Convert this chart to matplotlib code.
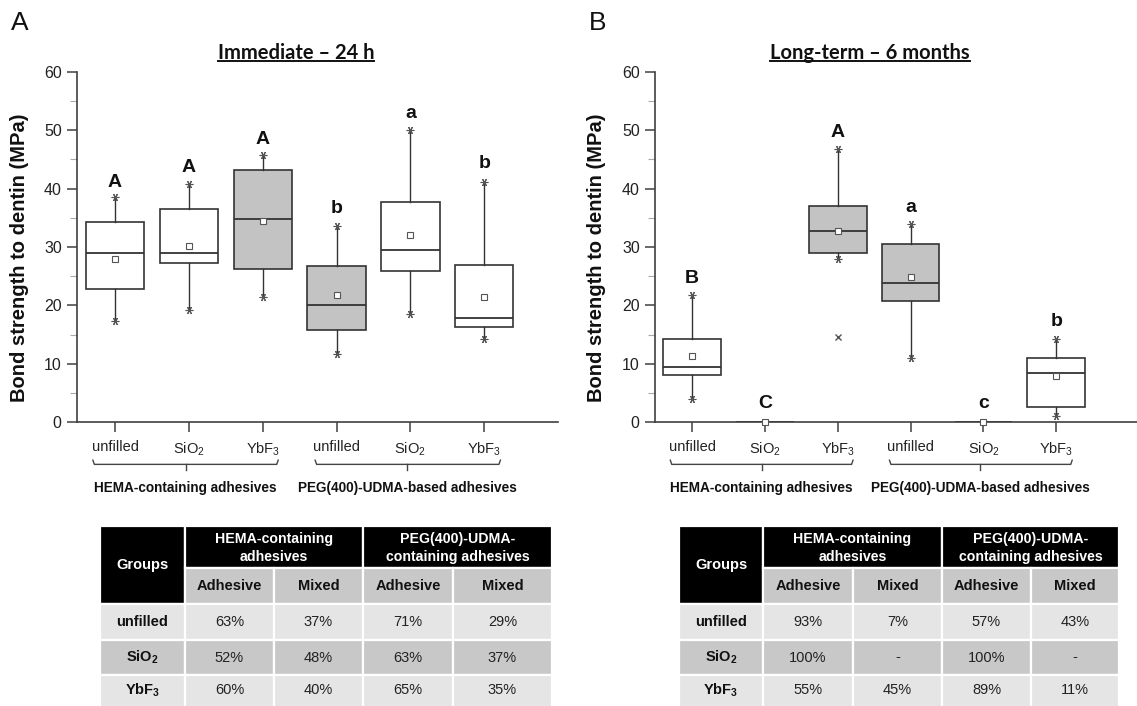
import matplotlib
matplotlib.use('Agg')
import matplotlib.pyplot as plt
import matplotlib.transforms as mtrans
from matplotlib.patches import Rectangle
from matplotlib.lines import Line2D
import numpy as np

plt.rcParams['font.family'] = ['Liberation Sans', 'DejaVu Sans']
plt.rcParams['mathtext.fontset'] = 'custom'
plt.rcParams['mathtext.rm'] = 'Liberation Sans'
plt.rcParams['mathtext.it'] = 'Liberation Sans:italic'
plt.rcParams['mathtext.bf'] = 'Liberation Sans:bold'

# ---------------- data ----------------
groups = ['unfilled', 'SiO$_2$', 'YbF$_3$', 'unfilled', 'SiO$_2$', 'YbF$_3$']
families = ['HEMA-containing adhesives', 'PEG(400)-UDMA-based adhesives']

# Panel A: Immediate - 24 h
a_q1 = [22.8, 27.3, 26.2, 15.8, 25.9, 16.3]
a_med = [28.9, 28.9, 34.8, 20.0, 29.5, 17.8]
a_q3 = [34.3, 36.5, 43.2, 26.8, 37.7, 27.0]
a_lo = [17.4, 19.2, 21.4, 11.7, 18.6, 14.2]
a_hi = [38.5, 40.7, 45.8, 33.6, 50.0, 41.2]
a_mean = [28.0, 30.2, 34.4, 21.8, 32.1, 21.4]
a_fliers = [[], [], [], [], [], []]
a_grey = [False, False, True, True, False, False]
a_letters = ['A', 'A', 'A', 'b', 'a', 'b']
a_letter_y = [40.3, 42.8, 47.7, 35.8, 52.0, 43.5]

# Panel B: Long-term - 6 months
b_q1 = [8.1, 0.0, 28.9, 20.8, 0.0, 2.6]
b_med = [9.5, 0.0, 32.8, 23.9, 0.0, 8.4]
b_q3 = [14.2, 0.0, 37.0, 30.5, 0.0, 11.0]
b_lo = [4.0, 0.0, 28.0, 11.0, 0.0, 1.1]
b_hi = [21.7, 0.0, 46.8, 34.0, 0.0, 14.3]
b_mean = [11.4, 0.0, 32.8, 24.8, 0.0, 8.0]
b_fliers = [[], [], [14.6], [], [], []]
b_grey = [False, False, True, True, False, False]
b_letters = ['B', 'C', 'A', 'a', 'c', 'b']
b_letter_y = [23.8, 2.4, 48.9, 36.0, 2.4, 16.5]

# Failure-mode tables
tab_rows = ['unfilled', r'SiO$_\mathbf{2}$', r'YbF$_\mathbf{3}$']
tab_cols = ['Adhesive', 'Mixed', 'Adhesive', 'Mixed']
tab_groups = ['HEMA-containing\nadhesives', 'PEG(400)-UDMA-\ncontaining adhesives']
tab_a = [['63%', '37%', '71%', '29%'],
         ['52%', '48%', '63%', '37%'],
         ['60%', '40%', '65%', '35%']]
tab_b = [['93%', '7%', '57%', '43%'],
         ['100%', '-', '100%', '-'],
         ['55%', '45%', '89%', '11%']]

# ---------------- style ----------------
W, H = 1137, 706
EDGE = '#333333'
GREY = '#c3c3c3'
SPINE = '#404040'

fig = plt.figure(figsize=(W / 100, H / 100), dpi=100)


def fx(px):
    return px / W


def fy(py):
    return 1 - py / H


y0, y60 = 422.3, 71.7
axA = fig.add_axes([fx(77), fy(y0), (558 - 77) / W, (y0 - y60) / H])
axB = fig.add_axes([fx(655), fy(y0), (1137 - 655) / W, (y0 - y60) / H])


def draw_panel(ax, q1, med, q3, lo, hi, mean, fliers, grey, letters, letter_y, xlim):
    pos = np.arange(1, 7)
    stats = [dict(q1=q1[i], med=med[i], q3=q3[i], whislo=lo[i], whishi=hi[i],
                  mean=mean[i], fliers=fliers[i]) for i in range(6)]
    bp = ax.bxp(stats, positions=pos, widths=0.79, patch_artist=True,
                showmeans=True, showcaps=False,
                boxprops=dict(edgecolor=EDGE, linewidth=1.2),
                medianprops=dict(color=EDGE, linewidth=1.3),
                whiskerprops=dict(color=EDGE, linewidth=1.0),
                meanprops=dict(marker='s', markersize=4, markerfacecolor='white',
                               markeredgecolor='#555555', markeredgewidth=0.8),
                flierprops=dict(marker='x', markersize=4, markeredgecolor='#555555',
                                markeredgewidth=1.0))
    for patch, g in zip(bp['boxes'], grey):
        patch.set_facecolor(GREY if g else 'white')
    for m in bp['means']:
        m.set_clip_on(False)
        m.set_zorder(4)
    for i in range(6):
        if hi[i] > 0:
            ax.plot([pos[i], pos[i]], [lo[i], hi[i]], ls='none', marker=(6, 2, 30),
                    ms=5.5, color='#555555', mew=0.8, zorder=3, clip_on=False)
    for i in range(6):
        ax.text(pos[i], letter_y[i], letters[i], ha='center', va='baseline',
                fontsize=14, fontweight='bold', color='#111111')

    ax.set_xlim(*xlim)
    ax.set_ylim(0, 60)
    ax.set_yticks(np.arange(0, 61, 10))
    ax.set_yticks(np.arange(5, 60, 10), minor=True)
    ax.set_yticklabels([str(v) for v in range(0, 61, 10)], fontsize=11.5, color='#222222')
    ax.set_xticks(pos)
    ax.set_xticklabels(groups, fontsize=10.5, color='#222222')
    for s in ['top', 'right']:
        ax.spines[s].set_visible(False)
    for s in ['left', 'bottom']:
        ax.spines[s].set_color(SPINE)
        ax.spines[s].set_linewidth(1.2)
    ax.tick_params(axis='y', which='major', direction='out', length=7, width=1.1,
                   color=SPINE, pad=4)
    ax.tick_params(axis='y', which='minor', direction='out', length=5, width=0.8,
                   color='#aaaaaa')
    ax.tick_params(axis='x', direction='out', length=7, width=1.1, color=SPINE, pad=6)

    # braces and family labels
    tr = mtrans.blended_transform_factory(ax.transData, ax.transAxes)
    spans = [(0.70, 3.21, 1.955), (3.71, 6.22, 4.955)]
    for (x0, x1, xm), lab in zip(spans, families):
        ax.plot([x0, x0 + 0.02, x1 - 0.02, x1], [-0.108, -0.120, -0.120, -0.108],
                color='#444444', lw=1.0, transform=tr, clip_on=False)
        ax.plot([xm, xm], [-0.120, -0.137], color='#444444', lw=1.0,
                transform=tr, clip_on=False)
        ax.text(xm, -0.187, lab, transform=tr, ha='center', va='center',
                fontsize=9.8, fontweight='bold', color='#111111')


draw_panel(axA, a_q1, a_med, a_q3, a_lo, a_hi, a_mean, a_fliers, a_grey,
           a_letters, a_letter_y, (0.485, 7.0))
draw_panel(axB, b_q1, b_med, b_q3, b_lo, b_hi, b_mean, b_fliers, b_grey,
           b_letters, b_letter_y, (0.49, 7.11))

# y labels
for xc in (20, 597):
    fig.text(fx(xc), fy(258), 'Bond strength to dentin (MPa)', rotation=90,
             ha='center', va='center', fontsize=14.5, fontweight='bold', color='#111111')

# panel letters
fig.text(fx(11), fy(23), 'A', ha='left', va='center', fontsize=19, color='#111111')
fig.text(fx(589), fy(23), 'B', ha='left', va='center', fontsize=19, color='#111111')

# titles with underline
titles = []
for xc, t in ((296, 'Immediate – 24 h'), (870, 'Long-term – 6 months')):
    titles.append(fig.text(fx(xc), fy(53), t, ha='center', va='center',
                           fontsize=14.5, fontweight='bold', family=['Lato', 'DejaVu Sans'],
                           color='#111111'))

# ---------------- tables ----------------
ov = fig.add_axes([0, 0, 1, 1])
ov.set_xlim(0, W)
ov.set_ylim(H, 0)
ov.axis('off')
ov.patch.set_visible(False)

row_edges = [526, 568, 604, 640, 675, 712]
DARK_ROW = '#c8c8c8'
LIGHT_ROW = '#e5e5e5'


def cell(x0, x1, y0_, y1_, fc):
    ov.add_patch(Rectangle((x0, y0_), x1 - x0, y1_ - y0_, facecolor=fc,
                           edgecolor='white', linewidth=1.6, clip_on=True))


def draw_table(col_edges, values):
    c = col_edges
    r = row_edges
    # header
    cell(c[0], c[1], r[0], r[2], 'black')
    ov.text((c[0] + c[1]) / 2, (r[0] + r[2]) / 2, 'Groups', ha='center', va='center',
            fontsize=10.5, fontweight='bold', color='white')
    for g in range(2):
        xa, xb = c[1 + 2 * g], c[3 + 2 * g]
        cell(xa, xb, r[0], r[1], 'black')
        ov.text((xa + xb) / 2, (r[0] + r[1]) / 2 + 1, tab_groups[g], ha='center',
                va='center', fontsize=10.2, fontweight='bold', color='white',
                linespacing=1.3, multialignment='center')
    for j in range(4):
        cell(c[1 + j], c[2 + j], r[1], r[2], DARK_ROW)
        ov.text((c[1 + j] + c[2 + j]) / 2, (r[1] + r[2]) / 2, tab_cols[j], ha='center',
                va='center', fontsize=10.5, fontweight='bold', color='#111111')
    for i in range(3):
        fc = DARK_ROW if i == 1 else LIGHT_ROW
        ya, yb = r[2 + i], r[3 + i]
        yc = (ya + yb) / 2 if i < 2 else 690
        cell(c[0], c[1], ya, yb, fc)
        ov.text((c[0] + c[1]) / 2, yc, tab_rows[i], ha='center', va='center',
                fontsize=10.5, fontweight='bold', color='#111111')
        for j in range(4):
            cell(c[1 + j], c[2 + j], ya, yb, fc)
            ov.text((c[1 + j] + c[2 + j]) / 2, yc, values[i][j], ha='center',
                    va='center', fontsize=10.5, color='#222222')


draw_table([100, 185, 274, 363, 453, 552], tab_a)
draw_table([679, 763, 853, 942, 1031, 1119], tab_b)

# underline titles
fig.canvas.draw()
renderer = fig.canvas.get_renderer()
for t in titles:
    bb = t.get_window_extent(renderer)
    yline = fy(61)
    fig.add_artist(Line2D([bb.x0 / W, bb.x1 / W], [yline, yline],
                          transform=fig.transFigure, color='#111111', lw=1.4))

fig.savefig('out.png', dpi=100)
